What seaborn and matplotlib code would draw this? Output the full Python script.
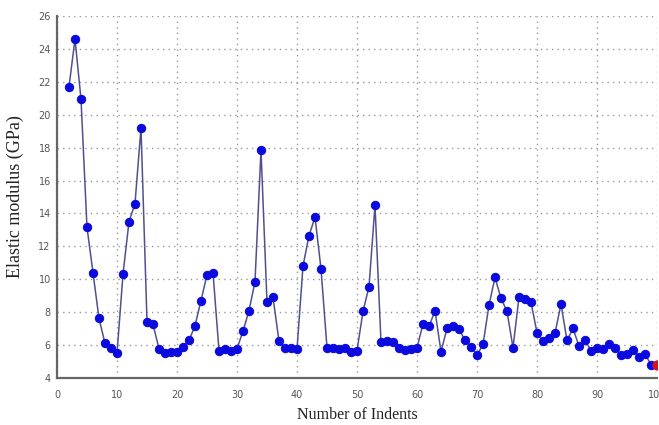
import matplotlib
matplotlib.use("Agg")
import matplotlib.pyplot as plt
import seaborn as sns
import pandas as pd
from matplotlib.ticker import MultipleLocator

indents = list(range(2, 101))
modulus = [
    21.7, 24.6, 20.95, 13.15, 10.4, 7.62, 6.1, 5.84, 5.5,          # 2-10
    10.3, 13.5, 14.6, 19.2, 7.42, 7.26, 5.78, 5.5, 5.6, 5.6,       # 11-20
    5.9, 6.28, 7.18, 8.7, 10.28, 10.4, 5.66, 5.74, 5.66, 5.78,     # 21-30
    6.85, 8.09, 9.85, 17.87, 8.6, 8.9, 6.24, 5.84, 5.84, 5.74,     # 31-40
    10.8, 12.65, 13.78, 10.64, 5.84, 5.84, 5.74, 5.84, 5.55, 5.66, # 41-50
    8.05, 9.55, 14.5, 6.16, 6.24, 6.16, 5.84, 5.7, 5.74, 5.84,     # 51-60
    7.28, 7.13, 8.09, 5.6, 7.01, 7.18, 6.97, 6.3, 5.9, 5.39,       # 61-70
    6.04, 8.43, 10.11, 8.84, 8.05, 5.84, 8.92, 8.78, 8.6, 6.75,    # 71-80
    6.24, 6.41, 6.73, 8.49, 6.28, 7.01, 5.94, 6.3, 5.66, 5.84,     # 81-90
    5.78, 6.06, 5.84, 5.39, 5.45, 5.7, 5.29, 5.45, 4.82, 4.78,     # 91-100
]
x_label = "Number of Indents"
y_label = "Elastic modulus (GPa)"

df = pd.DataFrame({"indent": indents, "modulus": modulus})

sns.set_style("white")
fig = plt.figure(figsize=(6.59, 4.25), dpi=100)
ax = fig.add_axes([57 / 659, 1 - 378 / 425, 600 / 659, 362 / 425])

sns.lineplot(data=df, x="indent", y="modulus", ax=ax, color="#50508f",
             linewidth=1.1, marker="o", markersize=6,
             markerfacecolor="#0a0adf", markeredgecolor="#0a0adf", zorder=3)
sns.scatterplot(data=df.iloc[[-1]], x="indent", y="modulus", ax=ax,
                color="#e01010", s=45, edgecolor="#e01010", zorder=4)

ax.set_xlim(0, 100)
ax.set_ylim(4, 26)
ax.xaxis.set_major_locator(MultipleLocator(10))
ax.xaxis.set_minor_locator(MultipleLocator(5))
ax.yaxis.set_major_locator(MultipleLocator(2))
ax.yaxis.set_minor_locator(MultipleLocator(1))

ax.grid(True, which="major", linestyle=(0, (1, 3)), color="#999999", linewidth=1.0)
ax.set_axisbelow(True)

for s in ["top", "right"]:
    ax.spines[s].set_visible(False)
for s in ["left", "bottom"]:
    ax.spines[s].set_color("#666666")
    ax.spines[s].set_linewidth(1.6)

ax.tick_params(axis="both", which="both", direction="inout", length=5,
               width=1.2, color="#555555", labelsize=7, labelcolor="#555555")
ax.tick_params(axis="x", pad=6)
ax.tick_params(axis="y", pad=2)

serif = ["Liberation Serif", "DejaVu Serif"]
ax.set_xlabel(x_label, family=serif, fontsize=11.5, color="#222222", labelpad=5)
ax.set_ylabel(y_label, family=serif, fontsize=13, color="#222222", labelpad=10)

fig.savefig("out.png", dpi=100)
